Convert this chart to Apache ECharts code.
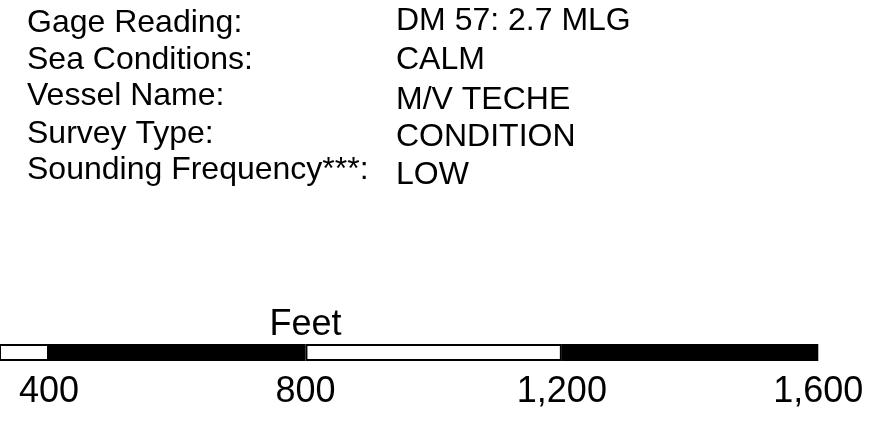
<!DOCTYPE html>
<html>
<head>
<meta charset="utf-8">
<script src="https://cdn.jsdelivr.net/npm/echarts@6/dist/echarts.min.js"></script>
<style>
  html, body { margin: 0; padding: 0; background: #fff; }
  #chart { width: 883px; height: 422px; }
</style>
</head>
<body>
<div id="chart"></div>
<script>
// survey info block
var infoLabels = ['Gage Reading:', 'Sea Conditions:', 'Vessel Name:', 'Survey Type:', 'Sounding Frequency***:'];
var infoValues = ['DM 57: 2.7 MLG', 'CALM', 'M/V TECHE', 'CONDITION', 'LOW'];

// scale bar (feet)
var scaleEnds = [400, 800, 1200, 1600];
var scaleTicks = [400, 800, 1200, 1600];
var scaleUnit = 'Feet';
var unitAt = 800;

var font = '"Liberation Sans", Arial, sans-serif';
var labelY = [25, 62, 98, 136, 172];
var valueY = [23, 62, 102, 139, 177];

var dom = document.getElementById('chart');
var myChart = echarts.init(dom);

var graphics = [];
infoLabels.forEach(function (t, i) {
    graphics.push({
        type: 'text', left: 27, top: labelY[i] - 18,
        style: { text: t, font: '32px ' + font, fill: '#000' }
    });
});
infoValues.forEach(function (t, i) {
    graphics.push({
        type: 'text', left: 396, top: valueY[i] - 18,
        style: { text: t, font: '32px ' + font, fill: '#000' }
    });
});

var series = [];
var prev = 0;
scaleEnds.forEach(function (end, i) {
    series.push({
        type: 'bar',
        stack: 'scale',
        barWidth: 17,
        silent: true,
        data: [end - prev],
        itemStyle: {
            color: i % 2 === 0 ? '#fff' : '#000',
            borderColor: '#000',
            borderWidth: 2
        }
    });
    prev = end;
});

// bar scale is cut off on the left: 400 ft sits at x=49, 1600 ft at x=818
var axisMin = 400 - 49 * 1200 / (818.3 - 49);
var axisMax = 1600;

var axisCommon = {
    type: 'value',
    min: axisMin,
    max: axisMax,
    axisLine: { show: false },
    axisTick: { show: false },
    splitLine: { show: false }
};

var option = {
    animation: false,
    backgroundColor: '#fff',
    graphic: graphics,
    grid: {
        left: 0,
        right: 64.7,
        top: 344,
        height: 17
    },
    xAxis: [Object.assign({}, axisCommon, {
        axisLabel: {
            customValues: scaleTicks,
            margin: 13,
            fontSize: 36,
            fontFamily: font,
            color: '#000',
            formatter: function (v) { return v.toLocaleString('en-US'); }
        }
    }), Object.assign({}, axisCommon, {
        position: 'top',
        axisLabel: {
            customValues: [unitAt],
            margin: 1,
            fontSize: 36,
            fontFamily: font,
            color: '#000',
            formatter: function () { return scaleUnit; }
        }
    })],
    yAxis: {
        type: 'category',
        data: ['scale'],
        show: false
    },
    series: series
};

myChart.setOption(option, true);
</script>
</body>
</html>
